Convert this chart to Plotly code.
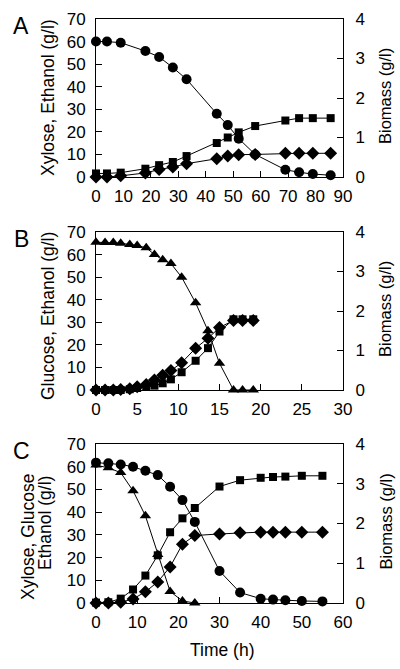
import plotly.graph_objects as go

# Panel A (xylose fermentation)
a_time = [0, 4, 9, 18, 23, 28, 33, 44, 48, 52, 58, 69, 74, 79, 85.5]
a_xylose = [60, 60, 59.5, 55.8, 53.2, 48.5, 43.3, 28, 23, 17, 10, 3.2, 2.1, 1.3, 0.8]
a_ethanol = [0, 0, 0.5, 1.8, 3.3, 4.4, 5.9, 8.1, 9.3, 9.9, 10, 10.5, 10.5, 10.5, 10.5]
a_biomass = [0.09, 0.09, 0.11, 0.21, 0.3, 0.38, 0.53, 0.86, 1.0, 1.13, 1.29, 1.43, 1.49, 1.49, 1.49]

# Panel B (glucose fermentation)
b_time = [0, 1.1, 2.1, 3.0, 4.1, 5.0, 6.1, 7.1, 8.1, 9.1, 10.4, 12.1, 13.6, 15.0, 16.7, 17.8, 19.1]
b_glucose = [65.5, 65.4, 65.3, 65, 64.5, 64, 63, 60, 57.7, 56, 50, 38.6, 26.3, 11.8, 0, 0, 0]
b_ethanol = [0, 0, 0, 0.2, 0.5, 1.4, 2.4, 4.4, 6.5, 8.6, 12.1, 18.5, 22.9, 27.7, 30.8, 30.8, 30.8]
b_biomass = [0, 0, 0, 0, 0.02, 0.05, 0.08, 0.11, 0.17, 0.27, 0.45, 0.74, 1.06, 1.48, 1.79, 1.79, 1.79]

# Panel C (xylose + glucose co-fermentation)
c_time = [0, 3, 6, 9, 12, 15, 18, 21, 24, 30, 35, 40, 43, 46, 50, 55]
c_xylose = [61.8, 61.5, 61, 60, 58.2, 56.3, 51.2, 45.3, 35.7, 14.1, 4.6, 1.9, 1.5, 1.2, 0.9, 0.7]
c_ethanol = [0, 0, 0.3, 1.8, 4.9, 9.3, 15.9, 25.9, 29.7, 30.4, 30.9, 31.2, 31.2, 31.2, 31.2, 31.2]
c_biomass = [0.01, 0.02, 0.11, 0.34, 0.69, 1.2, 1.78, 2.13, 2.39, 2.93, 3.09, 3.15, 3.17, 3.18, 3.2, 3.2]
c_glu_time = [0, 3, 6, 9, 12, 15, 18, 21, 24]
c_glucose = [60.7, 59.5, 57.4, 49.4, 38.4, 21.3, 5.1, 0.9, 0]

FONT = "Arial, Liberation Sans, sans-serif"
fig = go.Figure()

def add(x, y, sym, size, xa, ya):
    fig.add_trace(go.Scatter(
        x=x, y=y, mode="lines+markers", xaxis=xa, yaxis=ya,
        line=dict(color="black", width=1),
        marker=dict(symbol=sym, size=size, color="black"),
        cliponaxis=False, showlegend=False))

add(a_time, a_xylose, "circle", 10, "x", "y")
add(a_time, a_ethanol, "diamond", 10, "x", "y")
add(a_time, a_biomass, "square", 8, "x", "y2")

add(b_time, b_glucose, "triangle-up", 10, "x2", "y3")
add(b_time, b_ethanol, "diamond", 10, "x2", "y3")
add(b_time, b_biomass, "square", 8, "x2", "y4")

add(c_time, c_xylose, "circle", 10, "x3", "y5")
add(c_glu_time, c_glucose, "triangle-up", 10, "x3", "y5")
add(c_time, c_ethanol, "diamond", 10, "x3", "y5")
add(c_time, c_biomass, "square", 8, "x3", "y6")

W, H = 400, 669
ML, MR, MT, MB = 96, 57, 19, 66
PW, PH = W - ML - MR, H - MT - MB

def px(x):
    return (x - ML) / PW

def py(y):
    return (H - MB - y) / PH

panels = [(19, 177), (232, 390), (444, 603)]
xranges = [(90, 10), (30, 5), (60, 10)]

tickfont = dict(family=FONT, size=17, color="black")
layout = dict(
    width=W, height=H, margin=dict(l=ML, r=MR, t=MT, b=MB),
    paper_bgcolor="white", plot_bgcolor="white",
    font=dict(family=FONT, color="black"),
)
for i, ((top, bot), (xmax, dx)) in enumerate(zip(panels, xranges)):
    ydom = [max(0, py(bot)), min(1, py(top))]
    xn = "xaxis" if i == 0 else f"xaxis{i+1}"
    xid = "x" if i == 0 else f"x{i+1}"
    yl = 2 * i + 1
    yr = 2 * i + 2
    yln = "yaxis" if yl == 1 else f"yaxis{yl}"
    ylid = "y" if yl == 1 else f"y{yl}"
    layout[xn] = dict(domain=[0, 1], anchor=ylid, range=[0, xmax], dtick=dx,
                      showline=True, linecolor="black", linewidth=1, mirror=True,
                      ticks="inside", ticklen=6, tickcolor="black",
                      showgrid=False, zeroline=False, tickfont=tickfont,
                      ticklabelstandoff=4, automargin=False)
    layout[yln] = dict(domain=ydom, anchor=xid, range=[0, 70], dtick=10,
                       showline=True, linecolor="black", linewidth=1,
                       ticks="inside", ticklen=6, tickcolor="black",
                       showgrid=False, zeroline=False, tickfont=tickfont,
                       ticklabelstandoff=6, automargin=False)
    layout[f"yaxis{yr}"] = dict(domain=ydom, anchor=xid, overlaying=ylid, side="right",
                                range=[0, 4], dtick=1,
                                showline=True, linecolor="black", linewidth=1,
                                ticks="inside", ticklen=6, tickcolor="black",
                                showgrid=False, zeroline=False, tickfont=tickfont,
                                ticklabelstandoff=8, automargin=False)

fig.update_layout(**layout)

ann = []
letters = ["A", "B", "C"]
ytitles = [("Xylose, Ethanol (g/l)", 48, 98), ("Glucose, Ethanol (g/l)", 48, 316)]
TF = dict(family=FONT, size=17.5, color="black")
BF = dict(family=FONT, size=16.5, color="black")

def note(text, x, y, font, angle=0):
    ann.append(dict(text=text, x=px(x), y=py(y), xref="paper", yref="paper",
                    xanchor="center", yanchor="middle", textangle=angle,
                    showarrow=False, font=font))

for i, (top, bot) in enumerate(panels):
    cy = (top + bot) / 2
    note(letters[i], 21, top + 7, dict(family=FONT, size=23, color="black"))
    note("Biomass (g/l)", 385, cy - 2, BF, -90)
for t, x, y in ytitles:
    note(t, x, y, TF, -90)
note("Xylose, Glucose", 28, 537, TF, -90)
note("Ethanol (g/l)", 45, 523, TF, -90)
note("Time (h)", 222, 650, TF)
fig.update_layout(annotations=ann)

fig.write_html("out.html", config={"displayModeBar": False},
               post_script="document.body.style.margin='0';document.body.style.padding='0';")
